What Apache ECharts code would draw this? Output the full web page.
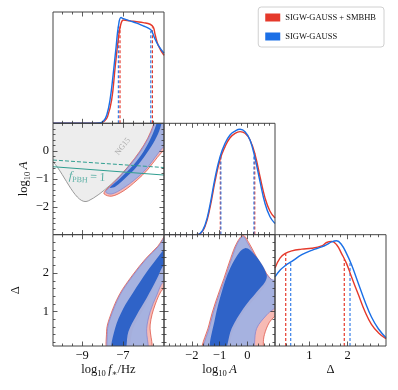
<!DOCTYPE html>
<html><head><meta charset="utf-8">
<script src="https://cdn.jsdelivr.net/npm/echarts@6/dist/echarts.min.js"></script>
<style>html,body{margin:0;padding:0;background:#fff}#c{width:398px;height:390px}</style>
</head><body><div id="c"></div>
<script>
// ---------------- parameters / axes ----------------
const fStarRange = [-10.43, -4.98];
const logARange = [-3, 1];
const deltaRange = [0.1, 3];
const fStarMajor = [-9, -7];
const fStarMinor = [-10, -9.5, -8.5, -8, -7.5, -6.5, -6, -5.5];
const logAMajor = [-2, -1, 0];
const logAMinor = [-2.8, -2.6, -2.4, -2.2, -1.8, -1.6, -1.4, -1.2, -0.8, -0.6, -0.4, -0.2, 0.2, 0.4, 0.6, 0.8];
const deltaMajor = [1, 2];
const deltaMinor = [0.2, 0.4, 0.6, 0.8, 1.2, 1.4, 1.6, 1.8, 2.2, 2.4, 2.6, 2.8];

const seriesNames = ['SIGW-GAUSS + SMBHB', 'SIGW-GAUSS'];

// ---------------- 1D marginals (height as fraction of panel) ----------------
const fStarGridBlue = [-10.43, -8.6, -8.15, -7.95, -7.79, -7.63, -7.47, -7.33, -7.22, -7.09, -6.97, -6.65, -6.32, -6.0, -5.75, -5.6, -5.45, -5.26, -4.98];
const fStarPostBlue = [0, 0, 0.003, 0.02, 0.075, 0.21, 0.45, 0.69, 0.87, 0.95, 0.94, 0.92, 0.90, 0.875, 0.855, 0.835, 0.77, 0.70, 0.63];
const fStarGridRed = [-10.43, -8.6, -8.1, -7.9, -7.75, -7.55, -7.38, -7.22, -7.1, -6.97, -6.65, -6.32, -6.0, -5.66, -5.5, -5.42, -5.26, -4.98];
const fStarPostRed = [0, 0, 0.003, 0.02, 0.06, 0.21, 0.5, 0.76, 0.89, 0.928, 0.92, 0.913, 0.905, 0.89, 0.862, 0.80, 0.70, 0.61];

const logAGrid = [-3, -1.85, -1.70, -1.52, -1.34, -1.16, -0.98, -0.80, -0.62, -0.44, -0.26, -0.08, 0.10, 0.28, 0.46, 0.64, 0.82, 1.0];
const logAPostBlue = [0, 0, 0.01, 0.087, 0.27, 0.51, 0.70, 0.82, 0.895, 0.93, 0.946, 0.925, 0.85, 0.686, 0.476, 0.28, 0.16, 0.10];
const logAPostRed = [0, 0, 0.008, 0.075, 0.245, 0.48, 0.675, 0.79, 0.87, 0.91, 0.925, 0.91, 0.85, 0.72, 0.52, 0.33, 0.21, 0.15];

const deltaGrid = [0.1, 0.23, 0.36, 0.54, 0.80, 1.06, 1.32, 1.45, 1.58, 1.71, 1.84, 1.97, 2.10, 2.28, 2.45, 2.62, 2.80, 3.0];
const deltaPostRed = [0.70, 0.79, 0.83, 0.855, 0.87, 0.878, 0.90, 0.93, 0.94, 0.91, 0.83, 0.74, 0.62, 0.46, 0.31, 0.195, 0.12, 0.065];
const deltaPostBlue = [0.62, 0.68, 0.72, 0.76, 0.82, 0.86, 0.89, 0.91, 0.935, 0.945, 0.91, 0.83, 0.73, 0.56, 0.40, 0.26, 0.155, 0.075];

// credible-interval markers: [value, height]
const fStarCIRed = [[-7.14, 0.87], [-5.55, 0.86]];
const fStarCIBlue = [[-7.22, 0.87], [-5.63, 0.83]];
const logACIRed = [[-0.97, 0.67], [0.27, 0.73]];
const logACIBlue = [[-0.95, 0.72], [0.24, 0.71]];
const deltaCIRed = [[0.38, 0.83], [1.91, 0.78]];
const deltaCIBlue = [[0.51, 0.755], [2.06, 0.76]];

// ---------------- 2D panel: log f* vs log A ----------------
const ng15Region = [[-10.7, 1.4], [-10.7, -0.18], [-10.43, -0.38], [-8.70, -1.79], [-5.2, 1.4]];
const pbhSolid = [[-10.43, -0.56], [-4.98, -0.86]];
const pbhDashed = [[-10.43, -0.32], [-4.98, -0.59]];
const ng15LabelPos = [-7.0, 0.17];
const pbhLabelPos = [-8.75, -0.93];

const fA_red2 = [[-7.92, -1.54], [-7.86, -1.42], [-7.33, -1.05], [-6.68, -0.5], [-6.18, -0.02], [-5.78, 0.46], [-5.5, 0.94], [-5.32, 1.3], [-4.7, 1.3], [-4.7, 0.2], [-4.95, 0.06], [-5.3, -0.22], [-5.8, -0.68], [-6.3, -1.04], [-6.95, -1.42], [-7.55, -1.62]];
const fA_red1 = [[-7.6, -1.28], [-7.1, -0.95], [-6.45, -0.46], [-5.95, 0.02], [-5.6, 0.5], [-5.35, 0.96], [-5.2, 1.3], [-5.0, 1.3], [-5.1, 0.85], [-5.38, 0.44], [-5.8, -0.05], [-6.3, -0.54], [-6.8, -0.9], [-7.35, -1.25]];
const fA_blue2 = [[-7.84, -1.48], [-7.79, -1.40], [-7.30, -1.04], [-6.65, -0.50], [-6.15, -0.02], [-5.75, 0.46], [-5.47, 0.94], [-5.3, 1.3], [-4.7, 1.3], [-4.7, 0.3], [-5.0, 0.16], [-5.33, -0.14], [-5.83, -0.62], [-6.32, -0.97], [-6.98, -1.33], [-7.55, -1.54]];
const fA_blue1 = [[-7.63, -1.31], [-7.14, -0.98], [-6.48, -0.50], [-5.99, -0.02], [-5.63, 0.46], [-5.37, 0.94], [-5.25, 1.3], [-5.05, 1.3], [-5.17, 0.82], [-5.42, 0.40], [-5.83, -0.08], [-6.32, -0.56], [-6.81, -0.92], [-7.38, -1.28]];

// ---------------- 2D panel: log f* vs Delta ----------------
const fD_red2 = [[-7.66, -0.1], [-7.80, 0.47], [-7.66, 0.82], [-7.18, 1.43], [-6.52, 1.95], [-5.87, 2.38], [-5.3, 2.69], [-4.7, 3.1], [-4.7, 1.55], [-5.01, 1.60], [-5.42, 1.17], [-5.66, 0.65], [-5.68, -0.1]];
const fD_red1 = [[-7.52, -0.1], [-7.34, 0.56], [-6.94, 1.08], [-6.44, 1.51], [-5.8, 2.03], [-5.3, 2.38], [-4.7, 2.78], [-4.7, 2.2], [-5.1, 2.0], [-5.5, 1.6], [-6.0, 1.05], [-6.5, 0.55], [-6.8, -0.1]];
const fD_blue2 = [[-7.62, -0.1], [-7.76, 0.47], [-7.62, 0.82], [-7.14, 1.43], [-6.48, 1.95], [-5.83, 2.38], [-5.26, 2.69], [-4.7, 3.1], [-4.7, 1.7], [-5.01, 1.77], [-5.33, 1.43], [-5.66, 0.99], [-5.83, 0.56], [-5.87, -0.1]];
const fD_blue1 = [[-7.55, -0.1], [-7.38, 0.56], [-6.98, 1.08], [-6.48, 1.51], [-5.83, 2.03], [-5.33, 2.38], [-5.01, 2.60], [-4.7, 2.8], [-4.7, 2.3], [-5.01, 2.2], [-5.33, 1.85], [-5.83, 1.35], [-6.32, 0.91], [-6.73, 0.47], [-6.94, -0.1]];

// ---------------- 2D panel: log A vs Delta ----------------
const aD_red2 = [[-1.56, -0.1], [-1.38, 0.65], [-1.14, 1.25], [-0.84, 1.86], [-0.6, 2.38], [-0.38, 2.78], [-0.15, 2.98], [0.05, 2.8], [0.5, 2.2], [0.9, 1.8], [1.1, 1.7], [1.1, 1.0], [0.8, 0.72], [0.62, 0.4], [0.58, 0.15], [0.62, -0.1]];
const aD_red1 = [[-1.32, -0.1], [-1.13, 0.82], [-0.9, 1.51], [-0.6, 2.12], [-0.24, 2.56], [0.1, 2.6], [0.48, 2.28], [0.72, 1.95], [0.68, 1.72], [0.4, 1.45], [-0.1, 1.02], [-0.5, 0.52], [-0.8, -0.1]];
const aD_blue2 = [[-1.52, -0.1], [-1.34, 0.65], [-1.10, 1.25], [-0.80, 1.86], [-0.56, 2.38], [-0.35, 2.78], [-0.15, 2.95], [0.0, 2.8], [0.46, 2.21], [0.82, 1.86], [1.1, 1.75], [1.1, 1.2], [0.70, 0.91], [0.34, 0.56], [0.10, -0.1]];
const aD_blue1 = [[-1.34, -0.1], [-1.16, 0.82], [-0.92, 1.51], [-0.62, 2.12], [-0.26, 2.56], [-0.08, 2.65], [0.10, 2.60], [0.46, 2.30], [0.70, 1.95], [0.64, 1.77], [0.34, 1.51], [-0.14, 1.08], [-0.56, 0.56], [-0.86, -0.1]];

// ---------------- styling ----------------
const FONT = '"Liberation Serif", "DejaVu Serif", serif';
const RED = '#e5392b', BLUE = '#1b6fe6', TEAL = '#2f9e90', AXC = '#333';
const fillRed2 = 'rgba(242,140,130,0.6)', fillRed1 = 'rgba(225,100,90,0.35)';
const fillBlue2 = 'rgba(152,177,230,0.86)', fillBlue1 = '#2f63c8';

const subStyle = { fontFamily: FONT, fontSize: 8.5, lineHeight: 8, verticalAlign: 'bottom', color: '#111' };
const mainStyle = { fontFamily: FONT, fontSize: 12.5, lineHeight: 17, color: '#111' };
const itStyle = { fontFamily: FONT, fontSize: 12.5, lineHeight: 17, fontStyle: 'italic', color: '#111' };
const P = {
  f: { range: fStarRange, major: fStarMajor, minor: fStarMinor, name: '{t|log}{s|10}{i|\u2009f}{s|\u2217}{t|/Hz}' },
  a: { range: logARange, major: logAMajor, minor: logAMinor, name: '{t|log}{s|10}{i|\u2009A}' },
  d: { range: deltaRange, major: deltaMajor, minor: deltaMinor, name: '{t|Δ}' }
};

const colX = [53, 164, 275], rowY = [12, 123.3, 234.7], PW = 111, PH = 111.3;
const panels = [
  { c: 0, r: 0, x: 'f', y: null },
  { c: 0, r: 1, x: 'f', y: 'a' },
  { c: 1, r: 1, x: 'a', y: null },
  { c: 0, r: 2, x: 'f', y: 'd' },
  { c: 1, r: 2, x: 'a', y: 'd' },
  { c: 2, r: 2, x: 'd', y: null }
];

const grids = [], xAxes = [], yAxes = [], axIdx = [];
function mkAxis(arr, gi, pos, p, major, label, name, gap) {
  const ax = {
    type: 'value', gridIndex: gi, position: pos, min: p.range[0], max: p.range[1], z: 10,
    axisLine: { show: false, onZero: false }, splitLine: { show: false },
    axisTick: { show: true, inside: true, length: major ? 4.5 : 2.5, customValues: major ? p.major : p.minor, lineStyle: { color: AXC, width: 0.8 } },
    axisLabel: { show: !!label }
  };
  if (label) {
    ax.axisLabel = { show: true, customValues: p.major, formatter: v => String(v).replace('-', '\u2212'),
      fontFamily: FONT, fontSize: 12.5, color: '#111', margin: pos === 'bottom' ? 3 : 4 };
  }
  if (name) {
    ax.name = p.name; ax.nameLocation = 'middle'; ax.nameGap = gap;
    ax.nameTextStyle = { fontFamily: FONT, fontSize: 12.5, color: '#111', rich: { t: mainStyle, s: subStyle, i: itStyle } };
  }
  arr.push(ax); return arr.length - 1;
}
panels.forEach((pn, gi) => {
  grids.push({ left: colX[pn.c], top: rowY[pn.r], width: PW, height: PH, show: true, z: 10,
    borderColor: '#444', borderWidth: 1, backgroundColor: 'transparent' });
  const px = P[pn.x];
  const bottomRow = pn.r === 2;
  const xi = mkAxis(xAxes, gi, 'bottom', px, true, bottomRow, bottomRow, 15);
  mkAxis(xAxes, gi, 'bottom', px, false);
  mkAxis(xAxes, gi, 'top', px, true);
  mkAxis(xAxes, gi, 'top', px, false);
  let yi;
  if (pn.y) {
    const py = P[pn.y];
    const first = pn.c === 0;
    yi = mkAxis(yAxes, gi, 'left', py, true, first, first, pn.y === 'a' ? 16 : 29);
    mkAxis(yAxes, gi, 'left', py, false);
    mkAxis(yAxes, gi, 'right', py, true);
    mkAxis(yAxes, gi, 'right', py, false);
  } else {
    yAxes.push({ type: 'value', gridIndex: gi, min: 0, max: 1, show: false, axisLine: { show: false, onZero: false } });
    yi = yAxes.length - 1;
  }
  axIdx.push({ x: xi, y: yi });
});

const series = [];
const zip = (xs, ys) => xs.map((x, i) => [x, ys[i]]);
function curve(gi, xs, ys, color, name) {
  series.push({ type: 'line', name, xAxisIndex: axIdx[gi].x, yAxisIndex: axIdx[gi].y, data: zip(xs, ys),
    showSymbol: false, smooth: 0.45, lineStyle: { color, width: 1.4 }, itemStyle: { color }, z: 4, silent: true });
}
function ci(gi, marks, color, name) {
  marks.forEach(m => series.push({ type: 'line', name, xAxisIndex: axIdx[gi].x, yAxisIndex: axIdx[gi].y,
    data: [[m[0], 0], [m[0], m[1]]], showSymbol: false, lineStyle: { color, width: 1.2, type: [3, 2] }, itemStyle: { color }, z: 3, silent: true }));
}
function poly(gi, pts, fill, stroke, lw, z, name) {
  const px = P[panels[gi].x].range, py = panels[gi].y ? P[panels[gi].y].range : [0, 1];
  series.push({ type: 'custom', name, xAxisIndex: axIdx[gi].x, yAxisIndex: axIdx[gi].y, z: z, silent: true, clip: true,
    data: [[(px[0] + px[1]) / 2, (py[0] + py[1]) / 2]],
    renderItem(params, api) {
      const cs = params.coordSys;
      return { type: 'group', clipPath: { type: 'rect', shape: { x: cs.x, y: cs.y, width: cs.width, height: cs.height } },
        children: [{ type: 'polygon', shape: { points: pts.map(p => api.coord(p)), smooth: 0.35 },
          style: { fill: fill, stroke: stroke || 'none', lineWidth: lw || 0 } }] };
    } });
}
function seg(gi, pts, color, dashed) {
  series.push({ type: 'line', xAxisIndex: axIdx[gi].x, yAxisIndex: axIdx[gi].y, data: pts, showSymbol: false,
    lineStyle: { color, width: 1, type: dashed ? [4, 2] : 'solid' }, z: 6, silent: true });
}
function label(gi, pos, text, style, rich, rotate) {
  series.push({ type: 'scatter', xAxisIndex: axIdx[gi].x, yAxisIndex: axIdx[gi].y, data: [pos], symbolSize: 0, silent: true, z: 7,
    label: Object.assign({ show: true, position: 'inside', formatter: text, rotate: rotate || 0, rich: rich || {} }, style) });
}

// diagonal panels
curve(0, fStarGridRed, fStarPostRed, RED, seriesNames[0]);
curve(0, fStarGridBlue, fStarPostBlue, BLUE, seriesNames[1]);
ci(0, fStarCIRed, RED, seriesNames[0]); ci(0, fStarCIBlue, '#3a80e8', seriesNames[1]);
curve(2, logAGrid, logAPostRed, RED, seriesNames[0]);
curve(2, logAGrid, logAPostBlue, BLUE, seriesNames[1]);
ci(2, logACIRed, RED, seriesNames[0]); ci(2, logACIBlue, '#3a80e8', seriesNames[1]);
curve(5, deltaGrid, deltaPostRed, RED, seriesNames[0]);
curve(5, deltaGrid, deltaPostBlue, BLUE, seriesNames[1]);
ci(5, deltaCIRed, RED, seriesNames[0]); ci(5, deltaCIBlue, '#3a80e8', seriesNames[1]);

// f* vs A
poly(1, ng15Region, '#ededed', '#9a9a9a', 1, 1);
poly(1, fA_red2, fillRed2, '#e0584a', 0.8, 2, seriesNames[0]);
poly(1, fA_red1, fillRed1, 'none', 0, 2, seriesNames[0]);
poly(1, fA_blue2, fillBlue2, '#8a86cf', 0.8, 3, seriesNames[1]);
poly(1, fA_blue1, fillBlue1, 'none', 0, 3, seriesNames[1]);
seg(1, pbhSolid, TEAL, false);
seg(1, pbhDashed, TEAL, true);
label(1, ng15LabelPos, 'NG15', { fontFamily: FONT, fontSize: 8, color: '#9a9a9a' }, null, 52);
label(1, pbhLabelPos, '{i|f}{s|PBH}{t|\u2009=\u20091}', { color: TEAL },
  { i: { fontFamily: FONT, fontSize: 12, fontStyle: 'italic', color: TEAL, lineHeight: 15 },
    s: { fontFamily: FONT, fontSize: 8, color: TEAL, lineHeight: 7, verticalAlign: 'bottom' },
    t: { fontFamily: FONT, fontSize: 12, color: TEAL, lineHeight: 15 } }, -3);

// f* vs Delta
poly(3, fD_red2, fillRed2, '#e0584a', 0.8, 2, seriesNames[0]);
poly(3, fD_red1, fillRed1, 'none', 0, 2, seriesNames[0]);
poly(3, fD_blue2, fillBlue2, '#8a86cf', 0.8, 3, seriesNames[1]);
poly(3, fD_blue1, fillBlue1, 'none', 0, 3, seriesNames[1]);

// A vs Delta
poly(4, aD_red2, fillRed2, '#e0584a', 0.8, 2, seriesNames[0]);
poly(4, aD_red1, fillRed1, 'none', 0, 2, seriesNames[0]);
poly(4, aD_blue2, fillBlue2, '#8a86cf', 0.8, 3, seriesNames[1]);
poly(4, aD_blue1, fillBlue1, 'none', 0, 3, seriesNames[1]);

const chart = echarts.init(document.getElementById('c'), null, { renderer: 'canvas' });
chart.setOption({
  animation: false,
  backgroundColor: '#fff',
  legend: {
    top: 7, right: 14, orient: 'vertical', itemWidth: 15, itemHeight: 8, itemGap: 10,
    padding: [6, 8, 6, 7], borderColor: '#d0d0d0', borderWidth: 1, borderRadius: 3, selectedMode: false,
    textStyle: { fontFamily: FONT, fontSize: 8.5, color: '#111' },
    data: [
      { name: seriesNames[0], icon: 'rect', itemStyle: { color: RED, borderWidth: 0 } },
      { name: seriesNames[1], icon: 'rect', itemStyle: { color: BLUE, borderWidth: 0 } }
    ]
  },
  grid: grids, xAxis: xAxes, yAxis: yAxes, series: series
});
</script></body></html>
